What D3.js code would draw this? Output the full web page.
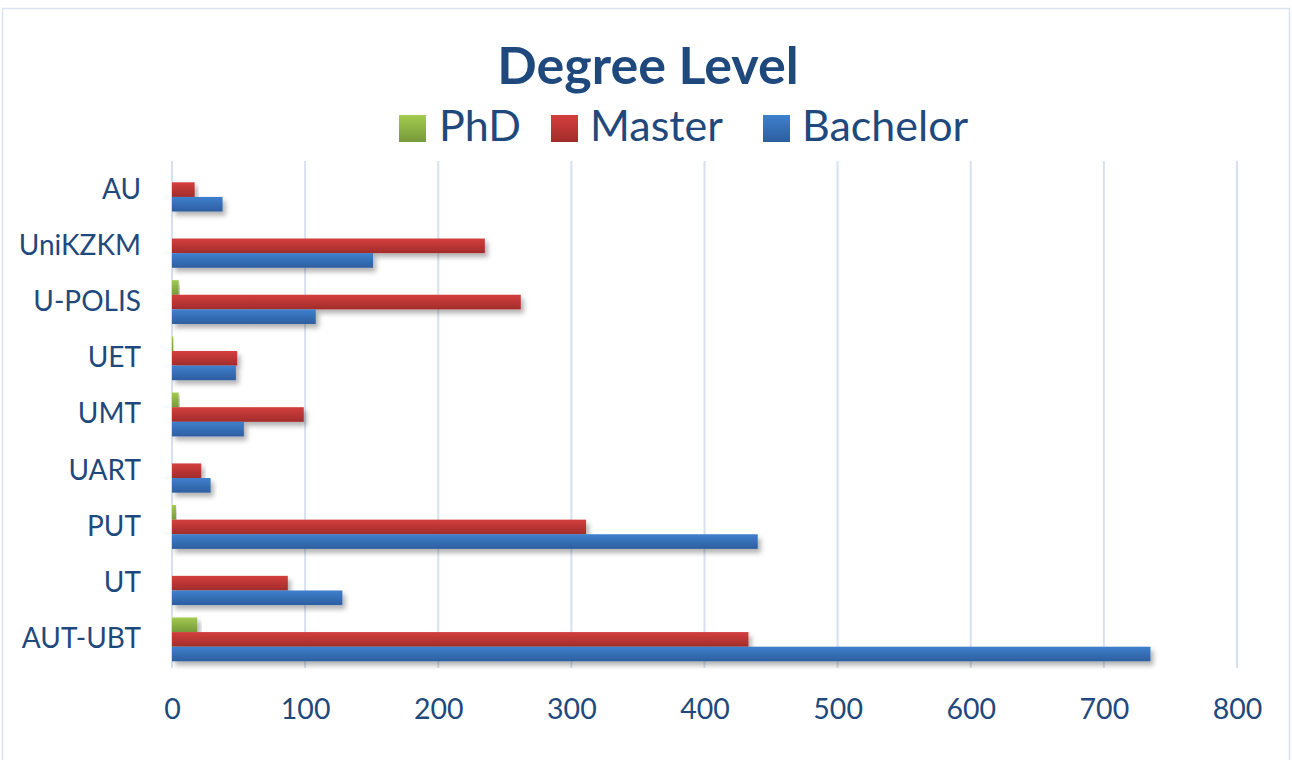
<!DOCTYPE html>
<html>
<head>
<meta charset="utf-8">
<script src="https://cdn.jsdelivr.net/npm/d3@7"></script>
<style>
  body { margin: 0; background: #fff; }
  svg { display: block; font-family: Lato, "Open Sans", sans-serif; }
</style>
</head>
<body>
<div id="chart"></div>
<script>
// categories, top to bottom as drawn
var universities = ['AU', 'UniKZKM', 'U-POLIS', 'UET', 'UMT', 'UART', 'PUT', 'UT', 'AUT-UBT'];
var seriesNames = ['PhD', 'Master', 'Bachelor'];

// values
var phd = [0, 0, 5, 1, 5, 0, 3, 0, 19];
var master = [17, 235, 262, 49, 99, 22, 311, 87, 433];
var bachelor = [38, 151, 108, 48, 54, 29, 440, 128, 735];

var xTicks = [0, 100, 200, 300, 400, 500, 600, 700, 800];

var W = 1292, H = 760;
var textColor = '#1F497D';

var colors = {
	PhD: ['#A2CB4E', '#769A3A'],
	Master: ['#D43F3D', '#A12C2B'],
	Bachelor: ['#3E80CE', '#2D5E9F']
};

var rows = universities.map(function (u, i) {
	return { name: u, PhD: phd[i], Master: master[i], Bachelor: bachelor[i] };
});

function draw() {
	var svg = d3.select('#chart').append('svg')
		.attr('width', W)
		.attr('height', H);

	var defs = svg.append('defs');

	seriesNames.forEach(function (s) {
		var g = defs.append('linearGradient')
			.attr('id', 'grad-' + s)
			.attr('x1', 0).attr('y1', 0).attr('x2', 0).attr('y2', 1);
		g.append('stop').attr('offset', '0%').attr('stop-color', colors[s][0]);
		g.append('stop').attr('offset', '100%').attr('stop-color', colors[s][1]);
	});

	var filter = defs.append('filter')
		.attr('id', 'shadow')
		.attr('x', '-5%').attr('y', '-30%')
		.attr('width', '120%').attr('height', '200%');
	filter.append('feDropShadow')
		.attr('dx', 3).attr('dy', 4)
		.attr('stdDeviation', 2.5)
		.attr('flood-color', '#000')
		.attr('flood-opacity', 0.3);

	// outer border
	svg.append('rect')
		.attr('x', 2.5).attr('y', 8.5)
		.attr('width', W - 5).attr('height', H)
		.attr('fill', 'none')
		.attr('stroke', '#D9E3F0')
		.attr('stroke-width', 1.5);

	var x = d3.scaleLinear().domain([0, 800]).range([172, 1237]);

	var y = d3.scaleBand()
		.domain(universities)
		.range([161.5, 667.5])
		.paddingInner(0.22)
		.paddingOuter(0.11);

	var ySub = d3.scaleBand()
		.domain(seriesNames)
		.range([0, y.bandwidth()]);

	// gridlines
	svg.append('g')
		.selectAll('line')
		.data(xTicks)
		.enter()
		.append('line')
		.attr('x1', d => x(d)).attr('x2', d => x(d))
		.attr('y1', 161).attr('y2', 668)
		.attr('stroke', '#D6E1EF')
		.attr('stroke-width', 2);

	// bars
	var groups = svg.append('g')
		.selectAll('g')
		.data(rows)
		.enter()
		.append('g')
		.attr('transform', d => 'translate(0,' + y(d.name) + ')');

	groups.selectAll('rect')
		.data(d => seriesNames.map(s => ({ key: s, value: d[s] })))
		.enter()
		.filter(d => d.value > 0)
		.append('rect')
		.attr('x', x(0))
		.attr('y', d => ySub(d.key))
		.attr('width', d => x(d.value) - x(0))
		.attr('height', ySub.bandwidth())
		.attr('fill', d => 'url(#grad-' + d.key + ')')
		.attr('filter', 'url(#shadow)');

	// x axis labels
	var xAxis = d3.axisBottom(x).tickValues(xTicks).tickSize(0).tickPadding(0);
	var xg = svg.append('g')
		.attr('transform', 'translate(0,699)')
		.call(xAxis);
	xg.select('.domain').remove();
	xg.selectAll('text')
		.attr('font-family', 'Lato, "Open Sans", sans-serif')
		.attr('font-size', 28.5)
		.attr('fill', textColor);

	// y axis labels
	var yAxis = d3.axisLeft(y).tickSize(0).tickPadding(0);
	var yg = svg.append('g')
		.attr('transform', 'translate(141,0)')
		.call(yAxis);
	yg.select('.domain').remove();
	yg.selectAll('text')
		.attr('font-family', 'Lato, "Open Sans", sans-serif')
		.attr('font-size', 28)
		.attr('fill', textColor);

	// title
	svg.append('text')
		.attr('x', 648).attr('y', 84)
		.attr('text-anchor', 'middle')
		.attr('font-size', 52)
		.attr('font-weight', 'bold')
		.attr('fill', textColor)
		.text('Degree Level');

	// legend
	var legendPos = [
		{ key: 'PhD', sx: 399, tx: 439 },
		{ key: 'Master', sx: 551, tx: 590 },
		{ key: 'Bachelor', sx: 763, tx: 802 }
	];
	var legend = svg.append('g')
		.selectAll('g')
		.data(legendPos)
		.enter()
		.append('g');
	legend.append('rect')
		.attr('x', d => d.sx).attr('y', 115)
		.attr('width', 27).attr('height', 27)
		.attr('fill', d => 'url(#grad-' + d.key + ')');
	legend.append('text')
		.attr('x', d => d.tx).attr('y', 141)
		.attr('font-size', 43)
		.attr('fill', textColor)
		.text(d => d.key);
}

draw();
</script>
</body>
</html>
